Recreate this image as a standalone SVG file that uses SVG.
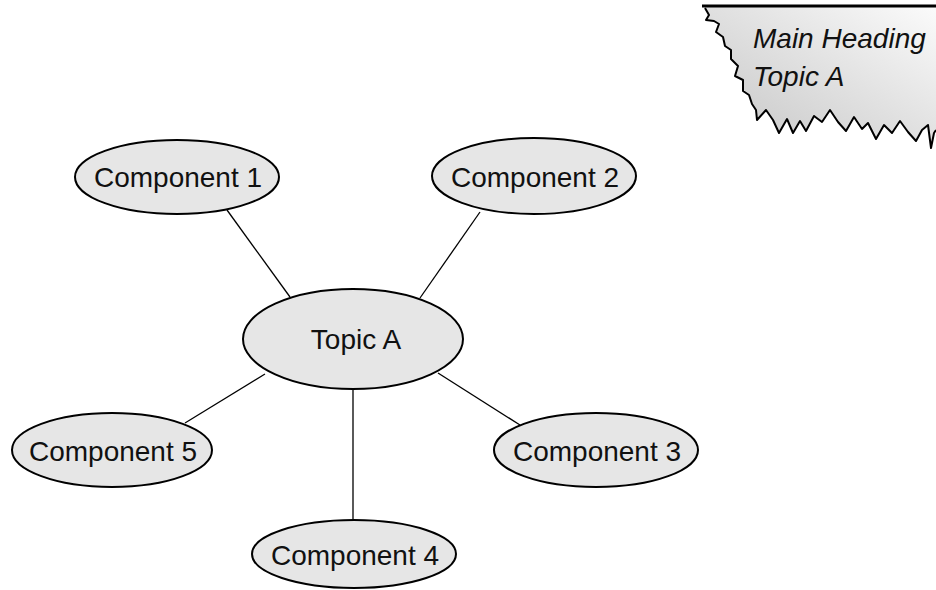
<svg xmlns="http://www.w3.org/2000/svg" width="936" height="590" viewBox="0 0 936 590">
<defs>
<linearGradient id="bannerFill" x1="0" y1="1" x2="1" y2="0">
<stop offset="0" stop-color="#c4c4c4"/>
<stop offset="0.55" stop-color="#e2e2e2"/>
<stop offset="1" stop-color="#fbfbfb"/>
</linearGradient>
</defs>
<style>
.node ellipse{fill:#e6e6e6;stroke:#000;stroke-width:2}
.node text{font-family:"Liberation Sans",Arial,sans-serif;font-size:28px;fill:#111;text-anchor:middle}
.conn line{stroke:#000;stroke-width:1.3}
.heading{font-family:"Liberation Sans",Arial,sans-serif;font-size:28px;font-style:italic;fill:#111}
</style>
<rect width="936" height="590" fill="#fff"/>
<g id="banner">
<path d="M705,8 L709,15 L706,20 L714,21 L719,24 L716,32 L723,37 L725,46 L731,50 L731,59 L738,66 L735,76 L743,80 L743,91 L749,95 L752,104 L756,110 L757,120 L766,110 L773,120 L779,133 L787,119 L793,133 L800,121 L806,131 L814,116 L822,122 L830,110 L838,122 L846,131 L854,117 L862,129 L868,123 L876,139 L884,125 L892,133 L900,121 L908,132 L916,141 L922,130 L928,125 L931,148 L934,133 L936,130 L936,6 L703,6 Z" fill="url(#bannerFill)" stroke="none"/>
<path d="M705,8 L709,15 L706,20 L714,21 L719,24 L716,32 L723,37 L725,46 L731,50 L731,59 L738,66 L735,76 L743,80 L743,91 L749,95 L752,104 L756,110 L757,120 L766,110 L773,120 L779,133 L787,119 L793,133 L800,121 L806,131 L814,116 L822,122 L830,110 L838,122 L846,131 L854,117 L862,129 L868,123 L876,139 L884,125 L892,133 L900,121 L908,132 L916,141 L922,130 L928,125 L931,148 L934,133 L936,130" fill="none" stroke="#000" stroke-width="2" stroke-linejoin="round"/>
<line x1="702" y1="6" x2="936" y2="6" stroke="#000" stroke-width="3"/>
<text class="heading" x="753" y="48">Main Heading</text>
<text class="heading" x="753" y="86">Topic A</text>
</g>
<g id="connectors" class="conn">
<line x1="227" y1="210" x2="290" y2="297"/>
<line x1="480" y1="212" x2="420" y2="298"/>
<line x1="265" y1="374" x2="185" y2="423"/>
<line x1="438" y1="373" x2="520" y2="425"/>
<line x1="353" y1="389" x2="353" y2="521"/>
</g>
<g id="topicA" class="node">
<ellipse cx="353" cy="339" rx="110" ry="50"/>
<text x="356" y="349">Topic A</text>
</g>
<g id="component1" class="node">
<ellipse cx="177" cy="177" rx="102" ry="37"/>
<text x="178" y="187">Component 1</text>
</g>
<g id="component2" class="node">
<ellipse cx="534" cy="176" rx="102" ry="38"/>
<text x="535" y="187">Component 2</text>
</g>
<g id="component3" class="node">
<ellipse cx="596" cy="450" rx="102" ry="37"/>
<text x="597" y="461">Component 3</text>
</g>
<g id="component5" class="node">
<ellipse cx="112" cy="450" rx="100" ry="37"/>
<text x="113" y="461">Component 5</text>
</g>
<g id="component4" class="node">
<ellipse cx="354" cy="554" rx="102" ry="34"/>
<text x="355" y="565">Component 4</text>
</g>
</svg>
